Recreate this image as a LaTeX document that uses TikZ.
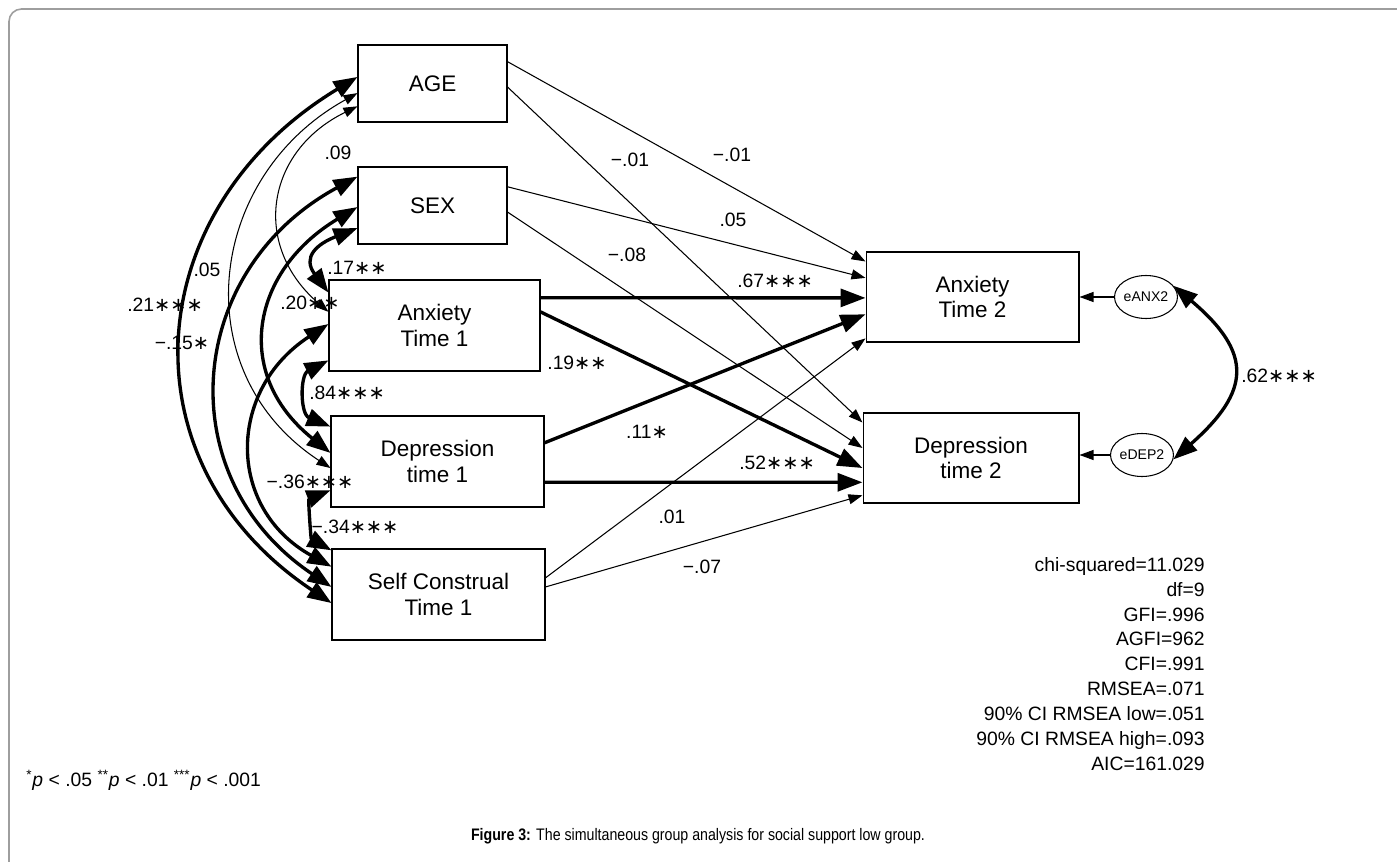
\documentclass[tikz,border=0pt]{standalone}
\usepackage{fontspec}
\setmainfont{Liberation Sans}
\newfontfamily\narrowfont[FakeStretch=0.85]{Liberation Sans}
\newfontfamily\starfont{DejaVu Sans}
\newcommand\sgst{{\starfont ∗}}
\usetikzlibrary{arrows.meta,calc,shapes.geometric}
\begin{document}
\begin{tikzpicture}[x=0.02cm,y=-0.02cm,
  box/.style={draw=black, line width=0.6pt, rectangle, align=center, inner sep=0pt, font=\fontsize{12.8}{14.7}\selectfont},
  err/.style={draw=black, line width=0.6pt, ellipse, inner sep=0pt, minimum width=1.08cm, minimum height=0.86cm, font=\fontsize{8}{9}\selectfont},
  lbl/.style={font=\fontsize{11}{13}\selectfont, inner sep=0pt},
  thinarr/.style={line width=0.6pt, -{Triangle[length=0.28cm,width=0.2cm]}},
  thickarr/.style={line width=1.9pt, -{Triangle[length=0.5cm,width=0.36cm]}},
  thincov/.style={line width=0.6pt, {Triangle[length=0.28cm,width=0.2cm]}-{Triangle[length=0.28cm,width=0.2cm]}},
  thickcov/.style={line width=1.9pt, {Triangle[length=0.48cm,width=0.35cm]}-{Triangle[length=0.48cm,width=0.35cm]}},
  frame/.style={draw=black!38, line width=0.9pt, rounded corners=0.25cm}
]
\useasboundingbox (0,0) rectangle (1397,862);
\draw[frame] (9,870) -- (9,9) -- (1405,9);

% boxes
\node[box, minimum width=2.98cm, minimum height=1.54cm] (age) at (432.5,83.5) {AGE};
\node[box, minimum width=2.98cm, minimum height=1.54cm] (sex) at (432.5,205.5) {SEX};
\node[box, minimum width=4.22cm, minimum height=1.82cm] (anx1) at (434.5,325.5) {Anxiety\\Time 1};
\node[box, minimum width=4.26cm, minimum height=1.82cm] (dep1) at (437.5,461.5) {Depression\\time 1};
\node[box, minimum width=4.26cm, minimum height=1.82cm] (sc1) at (438.5,594.5) {Self Construal\\Time 1};
\node[box, minimum width=4.26cm, minimum height=1.80cm] (anx2) at (972.5,297) {Anxiety\\Time 2};
\node[box, minimum width=4.32cm, minimum height=1.80cm] (dep2) at (971,458) {Depression\\time 2};
\node[err] (ea) at (1146,297) {eANX2};
\node[err] (ed) at (1142,455) {eDEP2};

% regression paths
\draw[thinarr] ($(age.north east)!0.22!(age.south east)$) -- ($(anx2.north west)!0.11!(anx2.south west)$);
\draw[thinarr] ($(age.north east)!0.545!(age.south east)$) -- ($(dep2.north west)!0.11!(dep2.south west)$);
\draw[thinarr] ($(sex.north east)!0.26!(sex.south east)$) -- ($(anx2.north west)!0.29!(anx2.south west)$);
\draw[thinarr] ($(sex.north east)!0.584!(sex.south east)$) -- ($(dep2.north west)!0.39!(dep2.south west)$);
\draw[thickarr] ($(anx1.north east)!0.198!(anx1.south east)$) -- ($(anx2.north west)!0.51!(anx2.south west)$);
\draw[thickarr] ($(anx1.north east)!0.352!(anx1.south east)$) -- ($(dep2.north west)!0.61!(dep2.south west)$);
\draw[thickarr] ($(dep1.north east)!0.297!(dep1.south east)$) -- ($(anx2.north west)!0.69!(anx2.south west)$);
\draw[thickarr] ($(dep1.north east)!0.725!(dep1.south east)$) -- ($(dep2.north west)!0.767!(dep2.south west)$);
\draw[thinarr] ($(sc1.north east)!0.319!(sc1.south east)$) -- ($(anx2.north west)!0.955!(anx2.south west)$);
\draw[thinarr] ($(sc1.north east)!0.418!(sc1.south east)$) -- ($(dep2.north west)!0.91!(dep2.south west)$);

% error paths
\draw[thinarr] (ea.west) -- (ea.west -| anx2.east);
\draw[thinarr] (ed.west) -- (ed.west -| dep2.east);
\draw[thickcov] (ea.22) .. controls (1253,353) and (1251,391) .. (ed.-8);

% covariances
\draw[thickcov] ($(age.north west)!0.416!(age.south west)$) .. controls (139,209) and (120,462) .. ($(sc1.north west)!0.593!(sc1.south west)$);
\draw[thincov] ($(age.north west)!0.623!(age.south west)$) .. controls (206,177) and (184,372) .. ($(dep1.north west)!0.571!(dep1.south west)$);
\draw[thincov] ($(age.north west)!0.792!(age.south west)$) .. controls (266,151) and (251,245) .. ($(anx1.north west)!0.352!(anx1.south west)$);
\draw[thickcov] ($(sex.north west)!0.13!(sex.south west)$) .. controls (185,270) and (168,477) .. ($(sc1.north west)!0.418!(sc1.south west)$);
\draw[thickcov] ($(sex.north west)!0.52!(sex.south west)$) .. controls (251,271) and (232,374) .. ($(dep1.north west)!0.407!(dep1.south west)$);
\draw[thickcov] ($(sex.north west)!0.79!(sex.south west)$) .. controls (317,244) and (302,257) .. ($(anx1.north west)!0.143!(anx1.south west)$);
\draw[thickcov] ($(anx1.north west)!0.879!(anx1.south west)$) .. controls (300,375) and (300,414) .. ($(dep1.north west)!0.121!(dep1.south west)$);
\draw[thickcov] ($(anx1.north west)!0.484!(anx1.south west)$) .. controls (227,390) and (226,508) .. ($(sc1.north west)!0.198!(sc1.south west)$);
\draw[thickcov] ($(dep1.north west)!0.813!(dep1.south west)$) .. controls (308,499) and (311,539) .. ($(sc1.north west)!0.02!(sc1.south west)$);

% path labels
\node[lbl] (l1) at (732,155) {−.01};
\node[lbl] (l2) at (630,160) {−.01};
\node[lbl] (l3) at (733,220) {.05};
\node[lbl] (l4) at (627,255) {−.08};
\node[lbl] (l5) at (775,281) {.67\sgst\sgst\sgst};
\node[lbl] (l6) at (577,363) {.19\sgst\sgst};
\node[lbl] (l7) at (647,432) {.11\sgst};
\node[lbl] (l8) at (777,463) {.52\sgst\sgst\sgst};
\node[lbl] (l9) at (672,517) {.01};
\node[lbl] (l10) at (702,567) {−.07};
\node[lbl, anchor=west] (l11) at (1241,376) {.62\sgst\sgst\sgst};
% covariance labels
\node[lbl] (c1) at (338,153) {.09};
\node[lbl] (c2) at (207,270) {.05};
\node[lbl] (c3) at (165,305) {.21\sgst\sgst\sgst};
\node[lbl] (c4) at (182,343) {−.15\sgst};
\node[lbl] (c5) at (357,268) {.17\sgst\sgst};
\node[lbl] (c6) at (310,303) {.20\sgst\sgst};
\node[lbl] (c7) at (347,393) {.84\sgst\sgst\sgst};
\node[lbl] (c8) at (310,482) {−.36\sgst\sgst\sgst};
\node[lbl] (c9) at (355,527) {−.34\sgst\sgst\sgst};

% fit statistics
\node[anchor=east, align=right, inner sep=0pt, font=\fontsize{11}{14.2}\selectfont] (fit) at (1205,664)
  {chi-squared=11.029\\df=9\\GFI=.996\\AGFI=962\\CFI=.991\\RMSEA=.071\\90\% CI RMSEA low=.051\\90\% CI RMSEA high=.093\\AIC=161.029};

\node[anchor=west, inner sep=0pt, font=\fontsize{11}{12}\selectfont] (pnote) at (26,780)
  {\textsuperscript{*}\textit{p} < .05 \textsuperscript{**}\textit{p} < .01 \textsuperscript{***}\textit{p} < .001};
\node[inner sep=0pt, font=\narrowfont\fontsize{9.5}{11}\selectfont] (cap) at (698,836)
  {\textbf{Figure 3:} The simultaneous group analysis for social support low group.};
\end{tikzpicture}
\end{document}
